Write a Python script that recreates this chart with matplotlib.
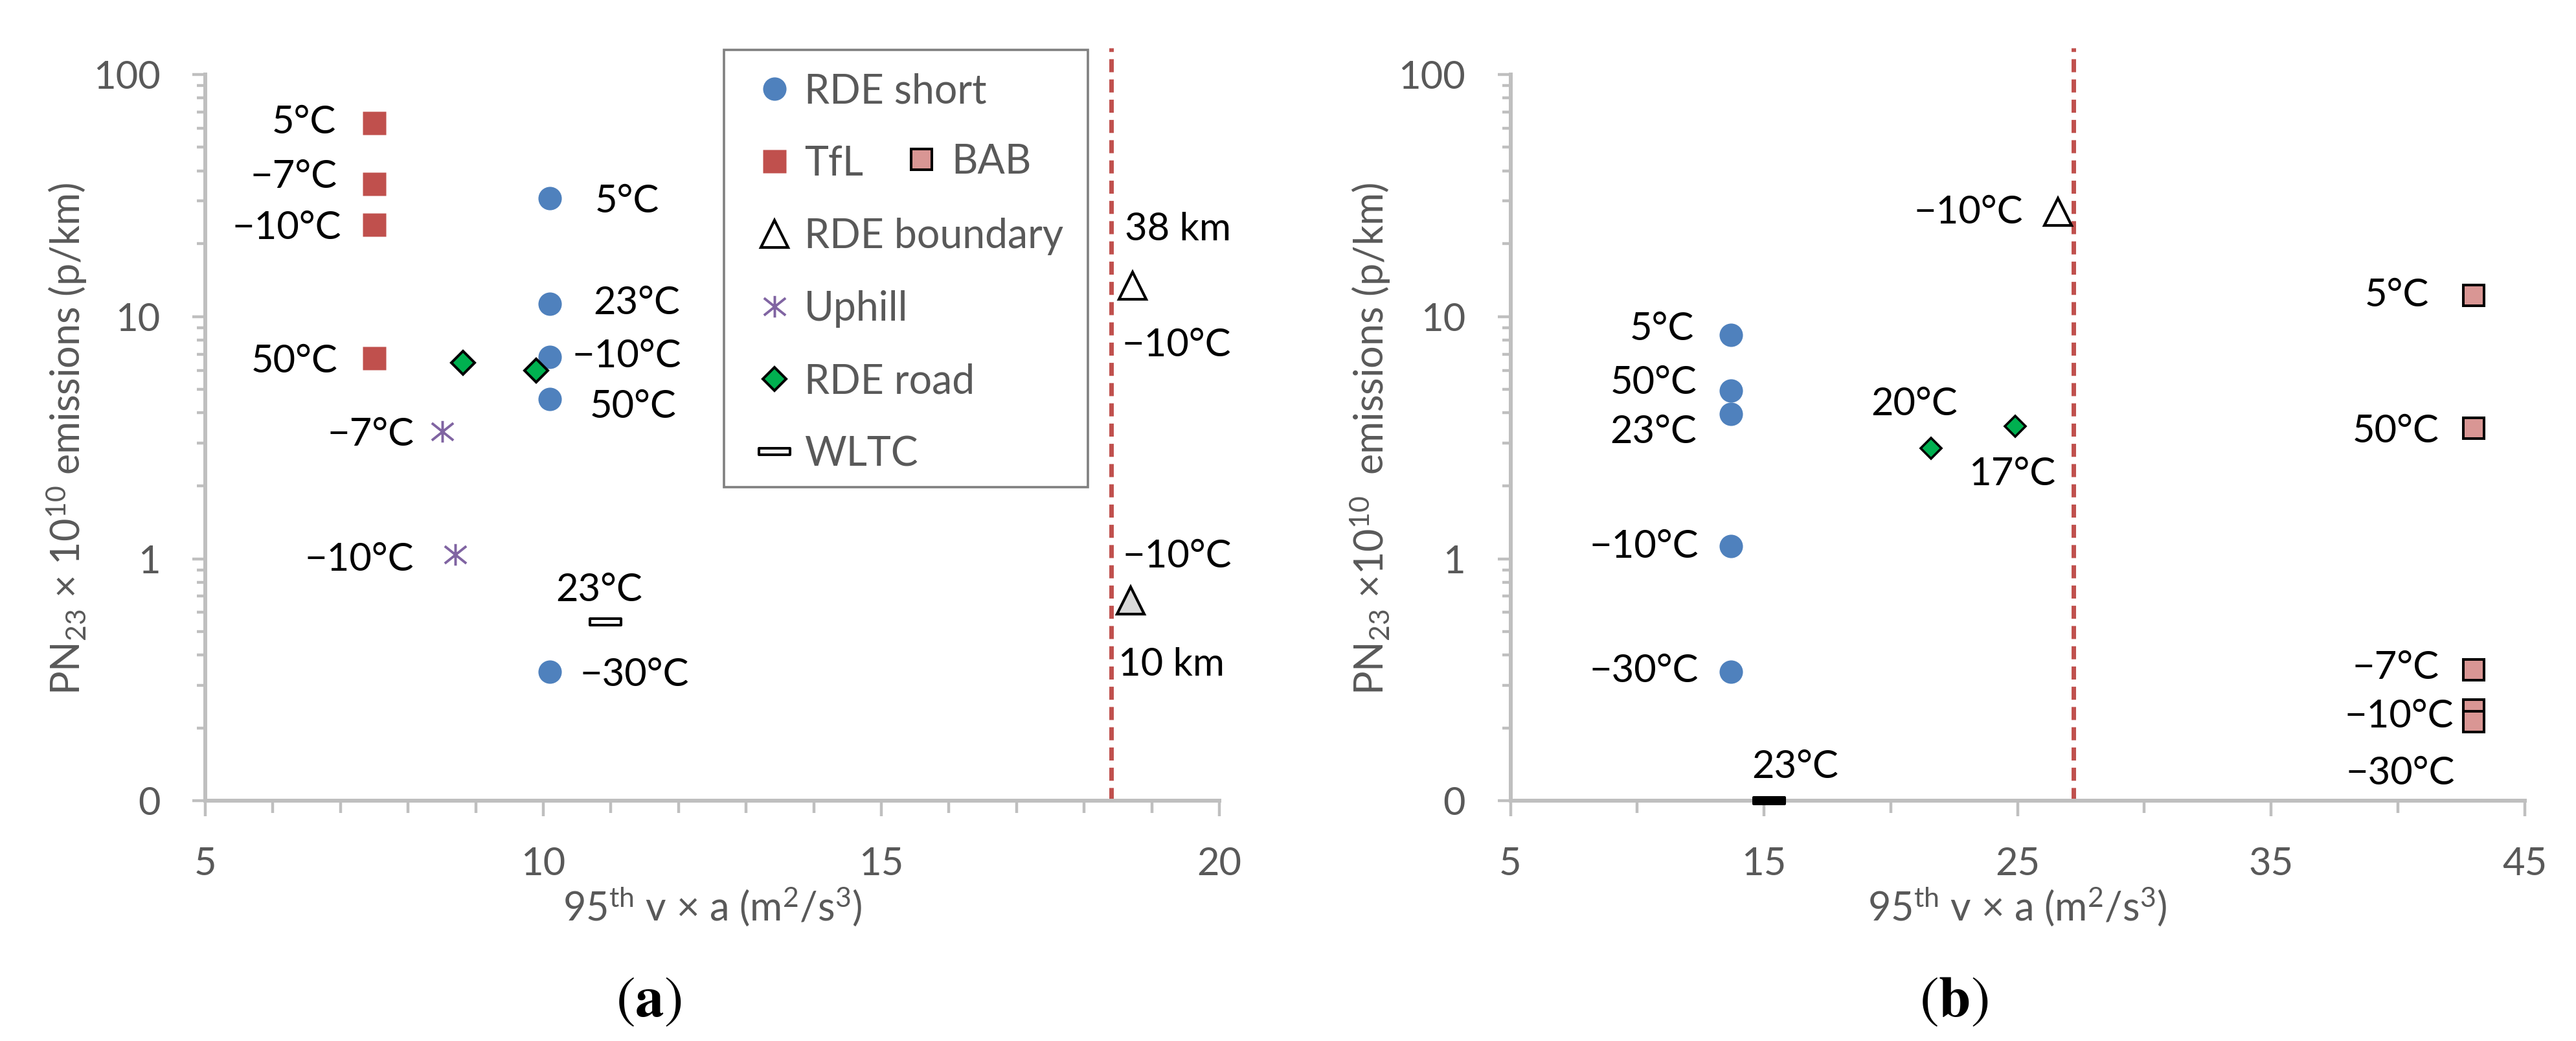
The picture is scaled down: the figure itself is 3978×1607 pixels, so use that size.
import numpy as np
import matplotlib
matplotlib.use('Agg')
import matplotlib.pyplot as plt
from matplotlib.path import Path
from matplotlib.lines import Line2D
from matplotlib.patches import Rectangle
from matplotlib.ticker import FixedLocator, FixedFormatter, NullFormatter

plt.rcParams['font.family'] = ['Lato', 'DejaVu Sans']
plt.rcParams['mathtext.fontset'] = 'custom'
plt.rcParams['mathtext.rm'] = 'Lato'
plt.rcParams['mathtext.it'] = 'Lato:italic'
plt.rcParams['mathtext.bf'] = 'Lato:bold'

# ---------------- data ----------------
y_ticks = [0.1, 1, 10, 100]
y_ticklabels = ['0', '1', '10', '100']

# panel (a)
a_x_ticks = [5, 10, 15, 20]
a_short_x = [10.1, 10.1, 10.1, 10.1, 10.1]
a_short_y = [30.8, 11.3, 6.8, 4.55, 0.342]
a_short_lbl = ['5°C', '23°C', '−10°C', '50°C', '−30°C']

a_tfl_x = [7.5, 7.5, 7.5, 7.5]
a_tfl_y = [62.8, 35.2, 23.9, 6.74]
a_tfl_lbl = ['5°C', '−7°C', '−10°C', '50°C']

a_bound_x = [18.72, 18.69]
a_bound_y = [13.4, 0.671]
a_bound_lbl_above = ['38 km', '−10°C']
a_bound_lbl_below = ['−10°C', '10 km']

a_uphill_x = [8.51, 8.70]
a_uphill_y = [3.36, 1.04]
a_uphill_lbl = ['−7°C', '−10°C']

a_road_x = [8.81, 9.89]
a_road_y = [6.43, 5.97]

a_wltc_x = [10.92]
a_wltc_y = [0.55]
a_wltc_lbl = ['23°C']

a_limit = 18.4

# panel (b)
b_x_ticks = [5, 15, 25, 35, 45]
b_short_x = [13.7, 13.7, 13.7, 13.7, 13.7]
b_short_y = [8.4, 4.93, 3.96, 1.13, 0.342]
b_short_lbl = ['5°C', '50°C', '23°C', '−10°C', '−30°C']

b_bab_x = [43.0, 43.0, 43.0, 43.0, 43.0]
b_bab_y = [12.2, 3.46, 0.347, 0.237, 0.212]
b_bab_lbl = ['5°C', '50°C', '−7°C', '−10°C', '−30°C']

b_bound_x = [26.6]
b_bound_y = [27.1]
b_bound_lbl = ['−10°C']

b_road_x = [21.6, 24.9]
b_road_y = [2.85, 3.52]
b_road_lbl = ['20°C', '17°C']

b_wltc_x = [15.2]
b_wltc_y = [0.1]          # plotted at the axis floor labelled "0"
b_wltc_lbl = ['23°C']

b_limit = 27.2

# ---------------- style ----------------
BLUE = '#4F81BD'
RED = '#C0504D'
PURPLE = '#8064A2'
GREEN = '#00B050'
BABC = '#D99694'
AX = '#BFBFBF'
TXT = '#595959'

W, H = 3978, 1607
DPI = 100
fig = plt.figure(figsize=(W / DPI, H / DPI), dpi=DPI)
fig.patch.set_facecolor('white')


def fx(px):
    return px / W


def fy(py):
    return 1 - py / H


ax_top, ax_bot = 74.0, 1236.4
ax_h = ax_bot - ax_top
axA = fig.add_axes([fx(317), fy(ax_bot), 1566 / W, ax_h / H])
axB = fig.add_axes([fx(2332.5), fy(ax_bot), 1566 / W, ax_h / H])

ymin_ticks = [m * 10.0 ** e for e in (-1, 0, 1) for m in range(2, 10)]


def style(ax, xlim, xmaj, xmin):
    ax.set_yscale('log')
    ax.set_xlim(*xlim)
    ax.set_ylim(0.1, 128.5)
    for s in ['top', 'right']:
        ax.spines[s].set_visible(False)
    for s in ['left', 'bottom']:
        ax.spines[s].set_color(AX)
        ax.spines[s].set_linewidth(4.3)
    ax.spines['left'].set_bounds(0.1, 100)
    ax.yaxis.set_major_locator(FixedLocator(y_ticks))
    ax.yaxis.set_major_formatter(FixedFormatter(y_ticklabels))
    ax.yaxis.set_minor_locator(FixedLocator(ymin_ticks))
    ax.yaxis.set_minor_formatter(NullFormatter())
    ax.xaxis.set_major_locator(FixedLocator(xmaj))
    ax.xaxis.set_minor_locator(FixedLocator(xmin))
    ax.xaxis.set_minor_formatter(NullFormatter())
    ax.tick_params(axis='y', which='major', length=14.4, width=3.2, color=AX,
                   pad=35.6, labelsize=43, labelcolor=TXT, direction='out')
    ax.tick_params(axis='y', which='minor', length=9.4, width=3.2, color=AX, direction='out')
    ax.tick_params(axis='x', which='major', length=17, width=3.2, color=AX,
                   pad=33.5, labelsize=43, labelcolor=TXT, direction='out')
    ax.tick_params(axis='x', which='minor', length=14, width=3.2, color=AX, direction='out')


style(axA, (5, 20), a_x_ticks, [6, 7, 8, 9, 11, 12, 13, 14, 16, 17, 18, 19])
style(axB, (5, 45), b_x_ticks, [10, 20, 30, 40])

# asterisk and WLTC markers
ast = Path([(0, -1), (0, 1), (-1, -0.8), (1, 0.8), (-1, 0.8), (1, -0.8)],
           [Path.MOVETO, Path.LINETO] * 3)
wltc_m = Path([(-1, -0.224), (1, -0.224), (1, 0.224), (-1, 0.224), (-1, -0.224)],
              [Path.MOVETO, Path.LINETO, Path.LINETO, Path.LINETO, Path.CLOSEPOLY])

LBL = dict(fontsize=43, color='black', va='center_baseline',
           textcoords='offset pixels', annotation_clip=False)


def labels(ax, xs, ys, texts, offs):
    for x, y, t, (dx, dy, ha) in zip(xs, ys, texts, offs):
        ax.annotate(t, (x, y), xytext=(dx, dy), ha=ha, **LBL)


DASH = (0, (2.9, 1.6))
DASH_LW = 5.0

# ---------------- panel (a) ----------------
axA.axvline(a_limit, color=RED, lw=DASH_LW, ls=DASH, zorder=1)
hS, = axA.plot(a_short_x, a_short_y, ls='none', marker='o', ms=26, color=BLUE,
               mec='none', label='RDE short', zorder=3)
hT, = axA.plot(a_tfl_x, a_tfl_y, ls='none', marker='s', ms=26.6, color=RED,
               mec='none', label='TfL', zorder=3)
hB, = axA.plot(a_bound_x[:1], a_bound_y[:1], ls='none', marker='^', ms=30,
               mfc='white', mec='black', mew=3.0, label='RDE boundary', zorder=3)
axA.plot(a_bound_x[1:], a_bound_y[1:], ls='none', marker='^', ms=30,
         mfc='#D9D9D9', mec='black', mew=3.0, zorder=3)
hU, = axA.plot(a_uphill_x, a_uphill_y, ls='none', marker=ast, ms=24, mfc='none',
               mec=PURPLE, mew=2.8, label='Uphill', zorder=3)
hR, = axA.plot(a_road_x, a_road_y, ls='none', marker='D', ms=18.3, mfc=GREEN,
               mec='black', mew=2.9, label='RDE road', zorder=3)
hW, = axA.plot(a_wltc_x, a_wltc_y, ls='none', marker=wltc_m, ms=35, mfc='white',
               mec='black', mew=2.9, label='WLTC', zorder=3)

labels(axA, a_short_x, a_short_y, a_short_lbl,
       [(69, 0, 'left'), (67, 6, 'left'), (34, 6, 'left'), (61, -7, 'left'), (46, 0, 'left')])
labels(axA, a_tfl_x, a_tfl_y, a_tfl_lbl,
       [(-59, 6, 'right'), (-57, 16, 'right'), (-51, 0, 'right'), (-57, 0, 'right')])
labels(axA, a_uphill_x, a_uphill_y, a_uphill_lbl,
       [(-44, 0, 'right'), (-64, -3, 'right')])
labels(axA, a_wltc_x, a_wltc_y, a_wltc_lbl, [(-10, 54, 'center')])
labels(axA, a_bound_x, a_bound_y, a_bound_lbl_above, [(-12, 92, 'left'), (-13, 73, 'left')])
labels(axA, a_bound_x, a_bound_y, a_bound_lbl_below, [(-17, -87, 'left'), (-19, -94, 'left')])

# legend
LEG = dict(loc='upper left', bbox_transform=fig.transFigure, frameon=False,
           borderpad=0, borderaxespad=0, handlelength=1.0, handletextpad=0.24,
           labelspacing=0.865, fontsize=45, labelcolor=TXT, numpoints=1)
leg1 = axA.legend(handles=[hS, hT, hB, hU, hR, hW],
                  bbox_to_anchor=(fx(1164.5), fy(112)), **LEG)
axA.add_artist(leg1)
bab_proxy = Line2D([], [], ls='none', marker='s', ms=23, mfc=BABC, mec='black', mew=2.9)
leg2 = axA.legend(handles=[bab_proxy], labels=['BAB'],
                  bbox_to_anchor=(fx(1392), fy(221)), **LEG)
frame = Rectangle((fx(1118), fy(751.5)), fx(1680) - fx(1118), fy(76.5) - fy(751.5),
                  transform=fig.transFigure, fill=False, ec='#808080', lw=2.6,
                  clip_on=False, zorder=5)
fig.patches.append(frame)

# ---------------- panel (b) ----------------
axB.axvline(b_limit, color=RED, lw=DASH_LW, ls=DASH, zorder=1)
axB.plot(b_short_x, b_short_y, ls='none', marker='o', ms=26, color=BLUE, mec='none', zorder=3)
axB.plot(b_bab_x, b_bab_y, ls='none', marker='s', ms=23, mfc=BABC, mec='black', mew=2.9, zorder=3)
axB.plot(b_bound_x, b_bound_y, ls='none', marker='^', ms=30, mfc='white', mec='black',
         mew=3.0, zorder=3)
axB.plot(b_road_x, b_road_y, ls='none', marker='D', ms=16.3, mfc=GREEN, mec='black',
         mew=2.6, zorder=3)
axB.plot(b_wltc_x, b_wltc_y, ls='none', marker=wltc_m, ms=35, mfc='black', mec='black',
         mew=2.9, zorder=4, clip_on=False)

labels(axB, b_short_x, b_short_y, b_short_lbl,
       [(-57, 14, 'right'), (-53, 17, 'right'), (-53, -23, 'right'), (-50, 4, 'right'),
        (-50, 6, 'right')])
labels(axB, b_bab_x, b_bab_y, b_bab_lbl,
       [(-69, 5, 'right'), (-54, 0, 'right'), (-54, 8, 'right'), (-31, -5, 'right'),
        (-29, -75, 'right')])
labels(axB, b_bound_x, b_bound_y, b_bound_lbl, [(-54, 4, 'right')])
labels(axB, b_road_x, b_road_y, b_road_lbl, [(-26, 73, 'center'), (-4, -69, 'center')])
labels(axB, b_wltc_x, b_wltc_y, b_wltc_lbl, [(-27, 57, 'left')])

# ---------------- axis labels ----------------
xl_y = -(1400 - ax_bot) / ax_h
for ax, ylab in [(axA, r'PN$_{23}$ × 10$^{10}$ emissions (p/km)'),
                 (axB, r'PN$_{23}$ ×10$^{10}$  emissions (p/km)')]:
    ax.set_xlabel(r'95$^{\mathrm{th}}$ v × a (m$^{2}$/s$^{3}$)', fontsize=44, color=TXT)
    ax.xaxis.set_label_coords(0.5, xl_y)
    ax.xaxis.label.set_va('center')
    ax.set_ylabel(ylab, fontsize=44, color=TXT)
    ax.yaxis.label.set_va('center')
axA.yaxis.set_label_coords((103 - 317) / 1566, (ax_bot - 678) / ax_h)
axB.yaxis.set_label_coords((2116 - 2332.5) / 1566, (ax_bot - 678) / ax_h)

fig.text(fx(1002), fy(1546), r'$(\mathbf{a})$', math_fontfamily='stix', fontsize=64,
         ha='center', va='center')
fig.text(fx(3017), fy(1546), r'$(\mathbf{b})$', math_fontfamily='stix', fontsize=64,
         ha='center', va='center')

fig.savefig('out.png', dpi=DPI, facecolor='white')
